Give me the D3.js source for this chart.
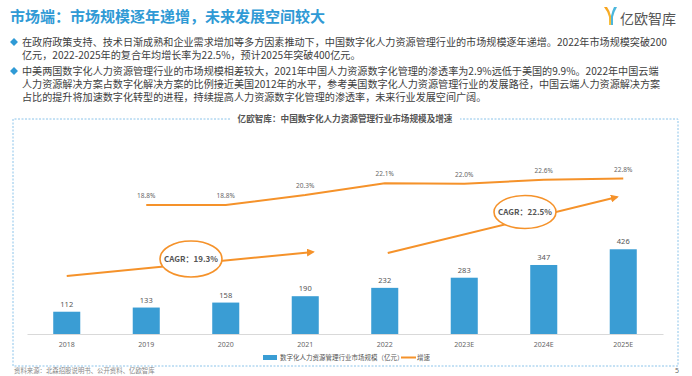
<!DOCTYPE html>
<html>
<head>
<meta charset="utf-8">
<script src="https://cdn.jsdelivr.net/npm/d3@7"></script>
<style>
  body { margin: 0; background: #fff; }
  svg { display: block; font-family: "Noto Sans CJK SC", "Noto Sans", sans-serif; }
</style>
</head>
<body>
<div id="chart"></div>
<script>
// Data
const years = ["2018", "2019", "2020", "2021", "2022", "2023E", "2024E", "2025E"];
const marketSize = [112, 133, 158, 190, 232, 283, 347, 426];
const growthYears = ["2019", "2020", "2021", "2022", "2023E", "2024E", "2025E"];
const growthRate = [18.8, 18.8, 20.3, 22.1, 22.0, 22.6, 22.8];
const cagrFrom = ["2018", "2022"];
const cagrTo = ["2021", "2025E"];
const cagrLabels = ["CAGR：19.3%", "CAGR：22.5%"];

const pageTitle = "市场端：市场规模逐年递增，未来发展空间较大";
const bullets = [
  ["在政府政策支持、技术日渐成熟和企业需求增加等多方因素推动下，中国数字化人力资源管理行业的市场规模逐年递增。2022年市场规模突破200",
   "亿元，2022-2025年的复合年均增长率为22.5%，预计2025年突破400亿元。"],
  ["中美两国数字化人力资源管理行业的市场规模相差较大，2021年中国人力资源数字化管理的渗透率为2.9%远低于美国的9.9%。2022年中国云端",
   "人力资源解决方案占数字化解决方案的比例接近美国2012年的水平，参考美国数字化人力资源管理行业的发展路径，中国云端人力资源解决方案",
   "占比的提升将加速数字化转型的进程，持续提高人力资源数字化管理的渗透率，未来行业发展空间广阔。"]
];
const chartTitle = "亿欧智库：中国数字化人力资源管理行业市场规模及增速";
const legendLabels = ["数字化人力资源管理行业市场规模（亿元）", "增速"];
const sourceText = "资料来源：北森招股说明书、公开资料、亿欧智库";

const blue = "#3a9dd4";
const orange = "#f5922a";

function draw() {
  const W = 692, H = 376;
  const svg = d3.select("#chart").append("svg")
    .attr("width", W).attr("height", H);

  const defs = svg.append("defs");

  // Page title
  svg.append("text")
    .attr("x", 10).attr("y", 22)
    .attr("fill", "#2f9ad5")
    .attr("font-size", 15).attr("font-weight", "bold")
    .text(pageTitle);

  // Logo
  const grad = defs.append("linearGradient").attr("id", "logoL")
    .attr("x1", 0).attr("y1", 0).attr("x2", 0).attr("y2", 1);
  grad.append("stop").attr("offset", "0%").attr("stop-color", "#f7a21b");
  grad.append("stop").attr("offset", "100%").attr("stop-color", "#f6c343");
  const logo = svg.append("g").attr("transform", "translate(604,7)");
  logo.append("path").attr("d", "M0,0 L3,0 Q6,4 7,9 L7,18 L5,18 L5,10 Q4,5 0,0 Z").attr("fill", "url(#logoL)");
  logo.append("path").attr("d", "M13,0 L10,0 Q8,4 7,9 L7,18 L9,18 L9,10 Q10,5 13,0 Z").attr("fill", "#4cb7dc");
  svg.append("text")
    .attr("x", 620).attr("y", 24)
    .attr("fill", "#555").attr("font-size", 14)
    .text("亿欧智库");

  // Bullets
  let ly = 46;
  bullets.forEach((lines, bi) => {
    if (bi > 0) ly += 3;
    svg.append("path")
      .attr("d", d3.symbol(d3.symbolDiamond2, 40)())
      .attr("transform", `translate(14,${ly - 4})`)
      .attr("fill", "#2f9ad5");
    lines.forEach(line => {
      svg.append("text")
        .attr("x", 22).attr("y", ly)
        .attr("fill", "#404040").attr("font-size", 10.1)
        .text(line);
      ly += 13;
    });
  });

  // Dotted frame with title gap
  const fr = { l: 13, t: 119, r: 678, b: 366 };
  svg.append("path")
    .attr("d", `M230,${fr.t} L${fr.l},${fr.t} L${fr.l},${fr.b} L${fr.r},${fr.b} L${fr.r},${fr.t} L460,${fr.t}`)
    .attr("fill", "none").attr("stroke", "#8cc4ea")
    .attr("stroke-width", 1).attr("stroke-dasharray", "2,1.5");

  svg.append("text")
    .attr("x", 345).attr("y", 122)
    .attr("text-anchor", "middle")
    .attr("fill", "#555").attr("font-size", 8.6).attr("font-weight", "bold")
    .text(chartTitle);

  // Scales
  const x = d3.scaleBand().domain(years).range([27, 663]).paddingInner(0.66).paddingOuter(0.33);
  const y = d3.scaleLinear().domain([0, 450]).range([334, 244.5]);
  const y2 = d3.scaleLinear().domain([0, 25]).range([329, 164]);
  const cx = d => x(d) + x.bandwidth() / 2;

  // X axis
  const xAxis = svg.append("g")
    .attr("transform", "translate(0,334)")
    .call(d3.axisBottom(x).tickSize(0).tickPadding(8));
  xAxis.select(".domain").attr("stroke", "#d9d9d9");
  xAxis.selectAll("text")
    .attr("fill", "#666").attr("font-size", 7)
    .attr("font-family", "\"Noto Sans\", sans-serif");

  // Bars
  const bars = years.map((yr, i) => ({ yr, v: marketSize[i] }));
  svg.selectAll(".bar").data(bars).enter().append("rect")
    .attr("class", "bar")
    .attr("x", d => x(d.yr))
    .attr("width", x.bandwidth())
    .attr("y", d => y(d.v))
    .attr("height", d => y(0) - y(d.v))
    .attr("fill", blue);
  svg.selectAll(".bar-label").data(bars).enter().append("text")
    .attr("class", "bar-label")
    .attr("x", d => cx(d.yr))
    .attr("y", d => y(d.v) - 5)
    .attr("text-anchor", "middle")
    .attr("fill", "#555").attr("font-size", 7.5)
    .attr("font-family", "\"Noto Sans\", sans-serif")
    .text(d => d.v);

  // Growth line
  const pts = growthYears.map((yr, i) => ({ yr, v: growthRate[i] }));
  const line = d3.line()
    .x(d => cx(d.yr))
    .y(d => y2(d.v));
  svg.append("path").datum(pts)
    .attr("d", line)
    .attr("fill", "none").attr("stroke", orange).attr("stroke-width", 2);
  svg.selectAll(".rate-label").data(pts).enter().append("text")
    .attr("class", "rate-label")
    .attr("x", d => cx(d.yr))
    .attr("y", d => y2(d.v) - 7)
    .attr("text-anchor", "middle")
    .attr("fill", "#666").attr("font-size", 6.5)
    .attr("font-family", "\"Noto Sans\", sans-serif")
    .text(d => d.v.toFixed(1) + "%");

  // CAGR arrows
  defs.append("marker")
    .attr("id", "arrow")
    .attr("viewBox", "0 0 10 10").attr("refX", 8).attr("refY", 5)
    .attr("markerWidth", 4).attr("markerHeight", 4)
    .attr("orient", "auto")
    .append("path").attr("d", "M0,0 L10,5 L0,10 Z").attr("fill", orange);

  const arrowY = [[276, 252], [253, 197]];
  const arrowDx = [[0, 8], [3, -6]];
  const ellipse = [{ cx: 191, cy: 259, rx: 31, ry: 18 }, { cx: 525, cy: 212, rx: 31, ry: 16.5 }];
  cagrLabels.forEach((lab, i) => {
    svg.append("line")
      .attr("x1", cx(cagrFrom[i]) + arrowDx[i][0]).attr("y1", arrowY[i][0])
      .attr("x2", cx(cagrTo[i]) + arrowDx[i][1]).attr("y2", arrowY[i][1])
      .attr("stroke", orange).attr("stroke-width", 2)
      .attr("marker-end", "url(#arrow)");
    const e = ellipse[i];
    svg.append("ellipse")
      .attr("cx", e.cx).attr("cy", e.cy).attr("rx", e.rx).attr("ry", e.ry)
      .attr("fill", "#fff").attr("stroke", orange).attr("stroke-width", 1.6);
    svg.append("text")
      .attr("x", e.cx).attr("y", e.cy + 3)
      .attr("text-anchor", "middle")
      .attr("fill", "#555").attr("font-size", 8).attr("font-weight", "bold")
      .text(lab);
  });

  // Legend
  svg.append("rect").attr("x", 263).attr("y", 355).attr("width", 14).attr("height", 5).attr("fill", blue);
  svg.append("text").attr("x", 280).attr("y", 360)
    .attr("fill", "#555").attr("font-size", 6.5).text(legendLabels[0]);
  svg.append("line").attr("x1", 401).attr("x2", 416).attr("y1", 357.5).attr("y2", 357.5)
    .attr("stroke", orange).attr("stroke-width", 2);
  svg.append("text").attr("x", 417).attr("y", 360)
    .attr("fill", "#555").attr("font-size", 6.5).text(legendLabels[1]);

  // Footer
  svg.append("text").attr("x", 14).attr("y", 373)
    .attr("fill", "#888").attr("font-size", 6.4).text(sourceText);
  svg.append("text").attr("x", 675).attr("y", 373)
    .attr("fill", "#666").attr("font-size", 7)
    .attr("font-family", "\"Noto Sans\", sans-serif").text("5");
}

document.addEventListener("DOMContentLoaded", draw);
</script>
</body>
</html>
